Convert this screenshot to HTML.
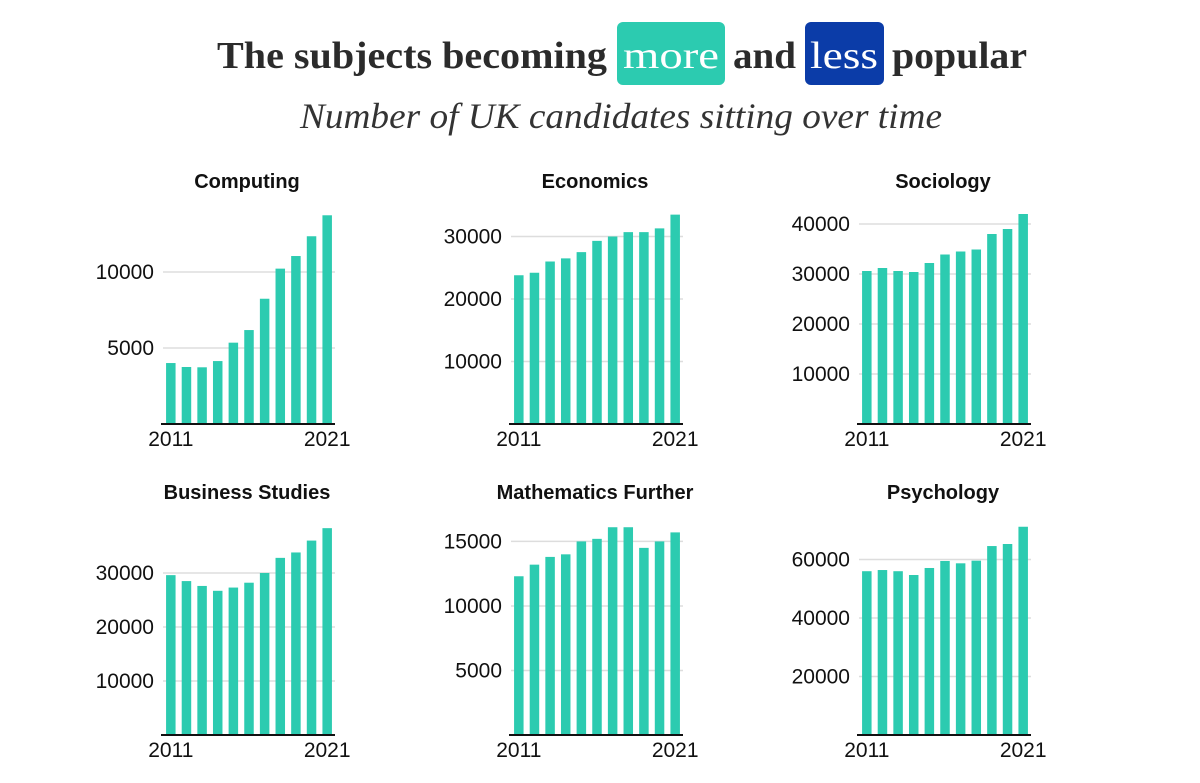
<!DOCTYPE html>
<html><head><meta charset="utf-8">
<style>
html,body{margin:0;padding:0;background:#fff;}
svg{display:block;}
</style></head>
<body>
<svg id="chart" width="1200" height="783" viewBox="0 0 1200 783" xmlns="http://www.w3.org/2000/svg">
  <g font-family="'Liberation Serif', serif" font-weight="bold" font-size="38" fill="#2b2b2b">
    <text x="217" y="68" textLength="390" lengthAdjust="spacingAndGlyphs">The subjects becoming</text>
    <rect x="617" y="22" width="108" height="63" rx="6" fill="#2ccbb0"/>
    <text x="623" y="68" textLength="96" lengthAdjust="spacingAndGlyphs" fill="#fff" font-weight="normal">more</text>
    <text x="733" y="68" textLength="63" lengthAdjust="spacingAndGlyphs">and</text>
    <rect x="805" y="22" width="79" height="63" rx="6" fill="#0b3ca8"/>
    <text x="810" y="68" textLength="68" lengthAdjust="spacingAndGlyphs" fill="#fff" font-weight="normal">less</text>
    <text x="892" y="68" textLength="135" lengthAdjust="spacingAndGlyphs">popular</text>
  </g>
  <text x="300" y="128" textLength="642" lengthAdjust="spacingAndGlyphs" font-family="'Liberation Serif', serif" font-style="italic" font-size="36" fill="#333">Number of UK candidates sitting over time</text>
  <g id="panels"></g>
</svg>
<script>
const subjects = ["Computing","Economics","Sociology","Business Studies","Mathematics Further","Psychology"];
const firstYear = "2011";
const lastYear = "2021";
const computing = [4010,3750,3730,4140,5350,6180,8240,10220,11050,12350,13730];
const economics = [23800,24200,26000,26500,27500,29300,30000,30700,30700,31300,33500];
const sociology = [30600,31200,30600,30400,32200,33900,34500,34900,38000,39000,42000];
const business = [29600,28500,27600,26700,27300,28200,30000,32800,33800,36000,38300];
const mathsFurther = [12300,13200,13800,14000,15000,15200,16100,16100,14500,15000,15700];
const psychology = [56000,56400,56000,54700,57100,59500,58700,59600,64600,65300,71200];
const seriesList = [computing,economics,sociology,business,mathsFurther,psychology];
const domainMax = [13880,33760,42200,39070,16350,72140];
const ticks = [[5000,10000],[10000,20000,30000],[10000,20000,30000,40000],[10000,20000,30000],[5000,10000,15000],[20000,40000,60000]];

const NS="http://www.w3.org/2000/svg";
const root=document.getElementById('panels');
function mk(tag,attrs,parent){const e=document.createElementNS(NS,tag);for(const k in attrs)e.setAttribute(k,attrs[k]);parent.appendChild(e);return e;}
const colX=[163,511,859], baseY=[424,735], plotW=172, plotH=211;
subjects.forEach((name,i)=>{
  const col=i%3,row=Math.floor(i/3);
  const x0=colX[col], y0=baseY[row];
  const data=seriesList[i];
  const yScale=v=>y0-v/domainMax[i]*plotH;
  const band=plotW/data.length, bw=9.5, pad=(band-bw)/2;
  const xScale=j=>x0+j*band+pad;
  const g=mk('g',{},root);
  
  
  const t=mk('text',{x:x0+plotW/2-2,y:row?499:188,'text-anchor':'middle','font-family':"'Liberation Sans Narrow','Liberation Sans',sans-serif",'font-weight':'bold','font-size':20,fill:'#111'},g);
  
  
  t.textContent=name;
  ticks[i].forEach(v=>{
    const y=yScale(v);
    const l=mk('line',{x1:x0,x2:x0+plotW,y1:y,y2:y,stroke:'#ddd','stroke-width':1.5},g);
    
    
    const tl=mk('text',{x:x0-9,y:y+7,'text-anchor':'end','font-family':"'Liberation Sans Narrow','Liberation Sans',sans-serif",'font-size':21,fill:'#111'},g);
    
    
    tl.textContent=v;
  });
  data.forEach((v,j)=>{
    const r=mk('rect',{x:xScale(j),y:yScale(v),width:bw,height:y0-yScale(v),fill:'#2ccbb0'},g);
    
    
  });
  const ax=mk('line',{x1:x0-2,x2:x0+plotW,y1:y0,y2:y0,stroke:'#111','stroke-width':2},g);
  
  
  [[firstYear,xScale(0)+bw/2],[lastYear,xScale(data.length-1)+bw/2]].forEach(([lab,x])=>{
    const yl=mk('text',{x:x,y:y0+22,'text-anchor':'middle','font-family':"'Liberation Sans Narrow','Liberation Sans',sans-serif",'font-size':21,fill:'#111'},g);
    
    
    yl.textContent=lab;
  });
});
</script>
</body></html>
